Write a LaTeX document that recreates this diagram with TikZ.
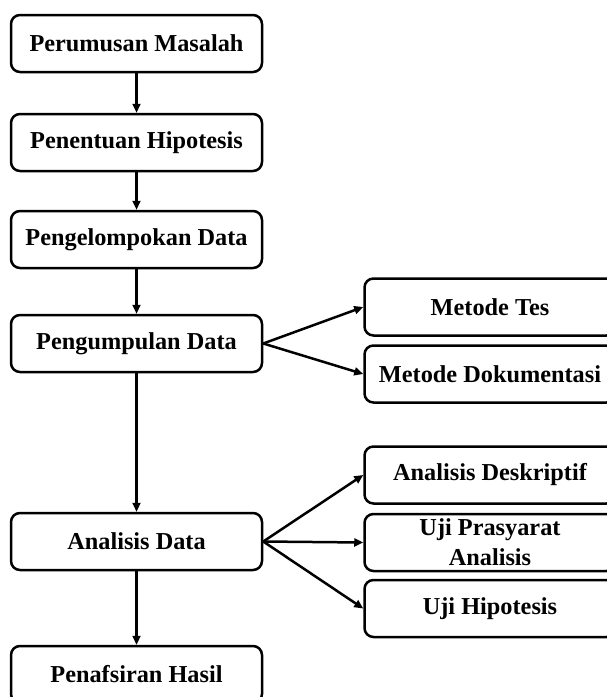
\documentclass[tikz,border=0pt]{standalone}
\usepackage{fontspec}
\setmainfont{Liberation Serif}
\usetikzlibrary{arrows.meta}
\begin{document}
\begin{tikzpicture}[x=1pt,y=-1pt,
  box/.style={draw, line width=2.5pt, rounded corners=9pt, minimum width=251pt, minimum height=57pt,
    inner sep=0pt, align=center, font=\fontsize{24.3}{30}\selectfont\bfseries},
  conn/.style={line width=2.5pt, -{Triangle[length=9pt,width=8pt]}}]
\useasboundingbox (0,0) rectangle (607,697);
\clip (0,0) rectangle (607,697);
\node[box] (b1) at (136.5,43.5) {Perumusan Masalah};
\node[box] (b2) at (136.5,142.5) {Penentuan Hipotesis};
\node[box] (b3) at (136.5,239.5) {Pengelompokan Data};
\node[box] (b4) at (136.5,343.5) {Pengumpulan Data};
\node[box] (b5) at (136.5,541.5) {Analisis Data};
\node[box] (b6) at (136.5,674.5) {Penafsiran Hasil};
\node[box] (r1) at (490,307) {Metode Tes};
\node[box] (r2) at (490,374) {Metode Dokumentasi};
\node[box] (r3) at (490,475) {Analisis Deskriptif};
\node[box] (r4) at (490,542.5) {Uji Prasyarat\\Analisis};
\node[box] (r5) at (490,608.5) {Uji Hipotesis};
\draw[conn] (b1) -- (b2);
\draw[conn] (b2) -- (b3);
\draw[conn] (b3) -- (b4);
\draw[conn] (b4) -- (b5);
\draw[conn] (b5) -- (b6);
\draw[conn] (b4.east) -- (r1.west);
\draw[conn] (b4.east) -- (r2.west);
\draw[conn] (b5.east) -- (r3.west);
\draw[conn] (b5.east) -- (r4.west);
\draw[conn] (b5.east) -- (r5.west);
\end{tikzpicture}
\end{document}
